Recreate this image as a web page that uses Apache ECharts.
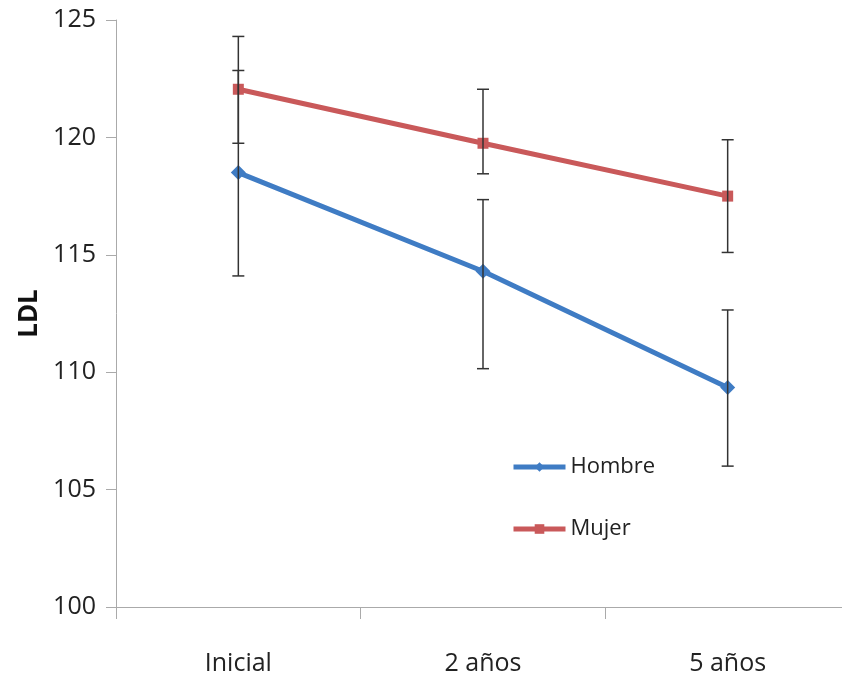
<!DOCTYPE html>
<html>
<head>
<meta charset="utf-8">
<script src="https://cdn.jsdelivr.net/npm/echarts@6/dist/echarts.min.js"></script>
<style>
  html, body { margin: 0; padding: 0; background: #fff; overflow: hidden; }
  #chart { width: 850px; height: 679px; }
</style>
</head>
<body>
<div id="chart"></div>
<script>
const categories = ['Inicial', '2 años', '5 años']
const hombre = [118.5, 114.3, 109.35]
const hombreLow = [114.1, 110.15, 106.0]
const hombreHigh = [122.85, 117.35, 112.65]
const mujer = [122.05, 119.75, 117.5]
const mujerLow = [119.75, 118.45, 115.1]
const mujerHigh = [124.3, 122.05, 119.9]

const fontFamily = '"Open Sans", "Noto Sans", sans-serif'

const errorData = []
categories.forEach((c, i) => {
  errorData.push([i, hombreLow[i], hombreHigh[i]])
  errorData.push([i, mujerLow[i], mujerHigh[i]])
})

const chart = echarts.init(document.getElementById('chart'))
const option = {
  animation: false,
  backgroundColor: '#fff',
  // the plot runs a little past the right edge of the picture
  grid: { left: 116, right: 0, top: 20, bottom: 72 },
  legend: {
    orient: 'vertical',
    left: 506,
    top: 451,
    itemWidth: 52,
    itemHeight: 12,
    itemGap: 40,
    lineStyle: { width: 5 },
    textStyle: { fontFamily: fontFamily, fontSize: 22, color: '#222' },
    data: ['Hombre', 'Mujer']
  },
  xAxis: {
    type: 'category',
    data: categories,
    boundaryGap: true,
    axisLine: { lineStyle: { color: '#aaa', width: 1 } },
    axisTick: { show: true, length: 12, lineStyle: { color: '#aaa' } },
    axisLabel: { fontFamily: fontFamily, fontSize: 25, color: '#222', margin: 44 }
  },
  yAxis: {
    type: 'value',
    min: 100,
    max: 125,
    interval: 5,
    name: 'LDL',
    nameLocation: 'middle',
    nameGap: 72,
    nameTextStyle: { fontFamily: fontFamily, fontSize: 26, fontWeight: 'bold', color: '#111' },
    splitLine: { show: false },
    axisLine: { show: true, lineStyle: { color: '#aaa', width: 1 } },
    axisTick: { show: true, length: 10, lineStyle: { color: '#aaa' } },
    axisLabel: { fontFamily: fontFamily, fontSize: 25, color: '#222', margin: 20 }
  },
  series: [
    {
      name: 'Hombre',
      type: 'line',
      data: hombre,
      symbol: 'diamond',
      symbolSize: 15,
      color: '#3f7cc4',
      lineStyle: { width: 5, color: '#3f7cc4' },
      itemStyle: { color: '#3f7cc4' },
      z: 2
    },
    {
      name: 'Mujer',
      type: 'line',
      data: mujer,
      symbol: 'rect',
      symbolSize: 11,
      color: '#c9595a',
      lineStyle: { width: 5, color: '#c9595a' },
      itemStyle: { color: '#c9595a' },
      z: 2
    },
    {
      type: 'custom',
      name: 'error',
      z: 5,
      data: errorData,
      renderItem: function (params, api) {
        const x = api.value(0)
        const low = api.coord([x, api.value(1)])
        const high = api.coord([x, api.value(2)])
        const half = 6
        const style = { stroke: '#333', lineWidth: 1.5 }
        return {
          type: 'group',
          children: [
            { type: 'line', shape: { x1: high[0], y1: high[1], x2: low[0], y2: low[1] }, style: style },
            { type: 'line', shape: { x1: high[0] - half, y1: high[1], x2: high[0] + half, y2: high[1] }, style: style },
            { type: 'line', shape: { x1: low[0] - half, y1: low[1], x2: low[0] + half, y2: low[1] }, style: style }
          ]
        }
      }
    }
  ]
}
chart.setOption(option)
</script>
</body>
</html>
